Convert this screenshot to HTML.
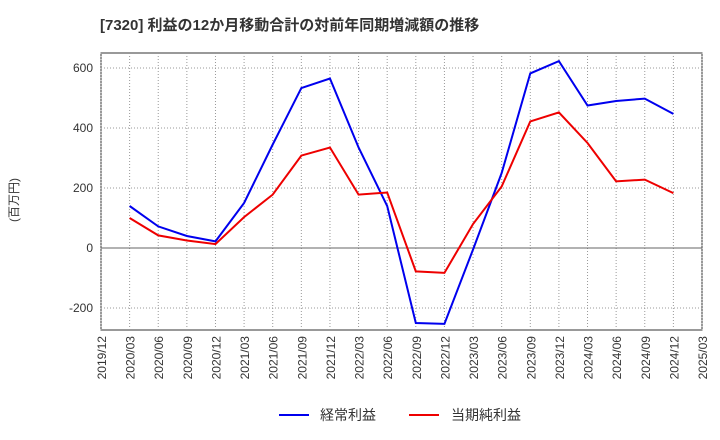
<!DOCTYPE html>
<html><head><meta charset="utf-8"><style>
body{margin:0;background:#fff;}
svg{display:block;font-family:"Liberation Sans","Noto Sans CJK JP",sans-serif;}
</style></head><body>
<svg id="c" width="720" height="440">
<text x="100" y="30" font-size="15" font-weight="bold" fill="#333">[7320]  利益の12か月移動合計の対前年同期増減額の推移</text>
<text transform="translate(18,200) rotate(-90)" font-size="12" fill="#333" text-anchor="middle">(百万円)</text>
<g id="grid"></g><g id="series"></g><g id="axes"></g>
<g>
<line x1="279" y1="415" x2="309" y2="415" stroke="#0000ee" stroke-width="2"/>
<text x="320" y="420" font-size="14" fill="#333">経常利益</text>
<line x1="409" y1="415" x2="439" y2="415" stroke="#ee0000" stroke-width="2"/>
<text x="451" y="420" font-size="14" fill="#333">当期純利益</text>
</g>
</svg>
<script>
const xLabels=["2019/12","2020/03","2020/06","2020/09","2020/12","2021/03","2021/06","2021/09","2021/12","2022/03","2022/06","2022/09","2022/12","2023/03","2023/06","2023/09","2023/12","2024/03","2024/06","2024/09","2024/12","2025/03"];
const yTicks=[-200,0,200,400,600];
const keijo=[140,72,40,22,150,345,533,565,335,140,-250,-253,-5,250,582,623,475,490,498,447];
const junri=[100,42,25,13,103,178,308,335,178,185,-78,-83,80,205,422,452,350,222,228,183];
const L=101,R=702,T=53,B=330;
const xs=i=>L+(R-L)*i/(xLabels.length-1);
const ys=v=>248-v*0.3;
const ns="http://www.w3.org/2000/svg";
function mk(p,t,a){const e=document.createElementNS(ns,t);for(const k in a)e.setAttribute(k,a[k]);document.getElementById(p).appendChild(e);return e;}
let bg=mk('grid','rect',{x:L,y:T,width:R-L,height:B-T,fill:'#fff',stroke:'#333'});


xLabels.forEach((s,i)=>{
 let g=mk('grid','line',{x1:xs(i),x2:xs(i),y1:T,y2:B,stroke:'#999','stroke-dasharray':'1,2'});
 
 
 let t=mk('axes','text',{transform:`translate(${xs(i)+5},${B+6}) rotate(-90)`,'font-size':12,fill:'#333','text-anchor':'end'});
 t.textContent=s;
 
 
});
yTicks.forEach(v=>{
 let g=mk('grid','line',{x1:L,x2:R,y1:ys(v),y2:ys(v),stroke:v===0?'#666':'#999','stroke-dasharray':v===0?'':'1,2'});
 
 
 let t=mk('axes','text',{x:L-8,y:ys(v)+4,'font-size':12,fill:'#333','text-anchor':'end'});
 t.textContent=v;
 
 
});
function line(d,c,n){
 const p=d.map((v,i)=>xs(i+1)+','+ys(v)).join(' ');
 let e=mk('series','polyline',{points:p,fill:'none',stroke:c,'stroke-width':2});
 
 
}
line(keijo,'#0000ee','series-keijo-line');
line(junri,'#ee0000','series-junri-line');
</script>
</body></html>
